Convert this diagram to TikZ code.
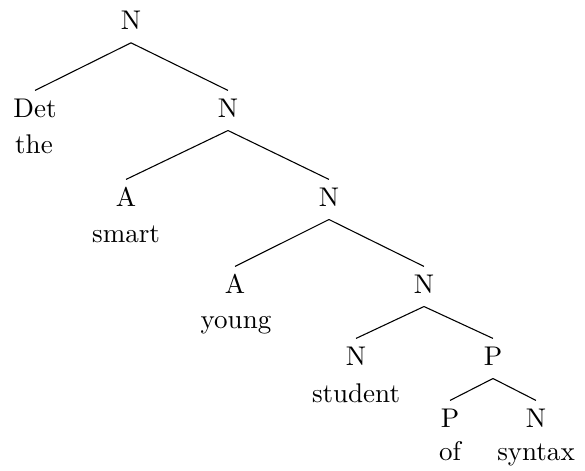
\documentclass[tikz,border=0pt]{standalone}
\usepackage{tikz}
\tikzset{
	cat/.style={anchor=base,text height=6.83pt,text depth=2pt,inner xsep=1pt,inner ysep=2.8pt},
	word/.style={anchor=base,inner sep=0pt},
}

\begin{document}
\begin{tikzpicture}[x=0.37pt,y=-0.37pt]
	\useasboundingbox (0,0) rectangle (585,470);

	%categories
	\node[cat](n0) at (131,29.3) {N};
	\node[cat](det) at (35,117) {Det};
	\node[cat](n1) at (228,117) {N};
	\node[cat](a1) at (126,206) {A};
	\node[cat](n2) at (329,206) {N};
	\node[cat](a2) at (235,293) {A};
	\node[cat](n3) at (424,293) {N};
	\node[cat](n4) at (356,365) {N};
	\node[cat](p0) at (493,365) {P};
	\node[cat](p1) at (450,427) {P};
	\node[cat](n5) at (536,427) {N};

	%words
	\node[word](the) at (34,153) {the};
	\node[word](smart) at (126,242) {smart};
	\node[word](young) at (236,328.5) {young};
	\node[word](student) at (356,402.7) {student};
	\node[word](of) at (450,460) {of};
	\node[word](syntax) at (536,460) {syntax};

	%branches
	\draw (n0.south) -- (det.north);
	\draw (n0.south) -- (n1.north);
	\draw (n1.south) -- (a1.north);
	\draw (n1.south) -- (n2.north);
	\draw (n2.south) -- (a2.north);
	\draw (n2.south) -- (n3.north);
	\draw (n3.south) -- (n4.north);
	\draw (n3.south) -- (p0.north);
	\draw (p0.south) -- (p1.north);
	\draw (p0.south) -- (n5.north);
\end{tikzpicture}
\end{document}
